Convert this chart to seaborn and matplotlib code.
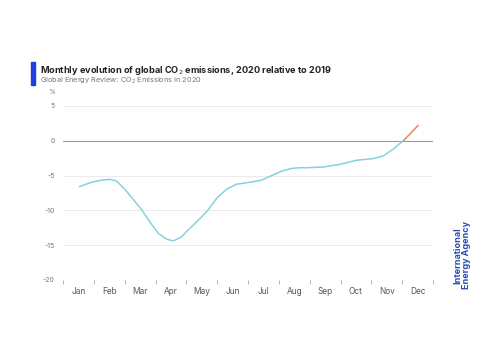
import numpy as np
import pandas as pd
import seaborn as sns
import matplotlib.pyplot as plt

months = ['Jan', 'Feb', 'Mar', 'Apr', 'May', 'Jun', 'Jul', 'Aug', 'Sep', 'Oct', 'Nov', 'Dec']
# position in months from 1 Jan (0.5 = mid-January)
month_pos = [0.53, 0.88, 1.20, 1.52, 1.74, 2.01, 2.28, 2.55, 2.82, 3.09, 3.36, 3.58,
             3.85, 4.06, 4.23, 4.66, 4.99, 5.31, 5.63, 6.07, 6.44, 6.77, 7.09, 7.42,
             7.69, 7.90, 8.44, 8.98, 9.53, 10.06, 10.39, 10.71, 11.04, 11.52]
change_pct = [-6.61, -6.03, -5.7, -5.55, -5.8, -7.0, -8.45, -9.9, -11.7, -13.3, -14.15, -14.4,
              -13.8, -12.8, -12.1, -10.2, -8.25, -6.95, -6.25, -5.96, -5.67, -5.0, -4.37, -3.97,
              -3.88, -3.88, -3.78, -3.4, -2.8, -2.57, -2.18, -1.2, 0.0, 2.2]

df = pd.DataFrame({'pos': month_pos, 'pct': change_pct})
cross = df.loc[df['pct'] <= 0, 'pos'].max()
below = df[df['pos'] <= cross]
above = df[df['pos'] >= cross]

sns.set_style('white')
plt.rcParams['font.family'] = ['Inter', 'DejaVu Sans']

fig = plt.figure(figsize=(5, 3.53), dpi=100)
ax = fig.add_axes([0.126, 0.207, 0.74, 0.493])

for yv in [5, -5, -10, -15]:
    ax.axhline(yv, color='#ececec', lw=0.7, zorder=0)
ax.axhline(0, color='#9a9a9a', lw=0.8, zorder=1)

sns.lineplot(data=below, x='pos', y='pct', ax=ax, color='#84d3da', lw=1.1, sort=False)
sns.lineplot(data=above, x='pos', y='pct', ax=ax, color='#e8845e', lw=1.1, sort=False)

ax.set_xlim(0, 12)
ax.set_ylim(-20, 5)
ax.set_yticks([5, 0, -5, -10, -15, -20])
ax.set_yticklabels(['5', '0', '-5', '-10', '-15', '-20'], fontsize=5, color='#777777')
ax.set_xticks(np.arange(12) + 0.5)
ax.set_xticklabels(months, fontsize=6, color='#555555')
ax.set_xticks(np.arange(13), minor=True)
ax.tick_params(axis='x', which='major', length=0, pad=5)
ax.tick_params(axis='x', which='minor', bottom=True, length=3, width=0.6,
               color='#aaaaaa', direction='out')
ax.tick_params(axis='y', length=0, pad=6)
ax.set_xlabel('')
ax.set_ylabel('')
for s in ax.spines.values():
    s.set_visible(False)

fig.text(0.096, 0.735, '%', fontsize=5, color='#777777')

fig.patches.append(plt.Rectangle((0.062, 0.76), 0.008, 0.065, transform=fig.transFigure,
                                 color='#1f3fe0', figure=fig))
fig.text(0.081, 0.783, 'Monthly evolution of global CO$_2$ emissions, 2020 relative to 2019',
         fontsize=6.6, fontweight='bold', color='#222222', va='bottom')
fig.text(0.081, 0.772, 'Global Energy Review: CO$_2$ Emissions in 2020',
         fontsize=5.3, color='#777777', va='center')

fig.text(0.925, 0.18, 'International\nEnergy Agency', rotation=90, fontsize=6.5,
         fontweight='bold', color='#2b4db5', ha='center', va='bottom', linespacing=0.95)

fig.savefig('out.png', dpi=100, facecolor='white')
